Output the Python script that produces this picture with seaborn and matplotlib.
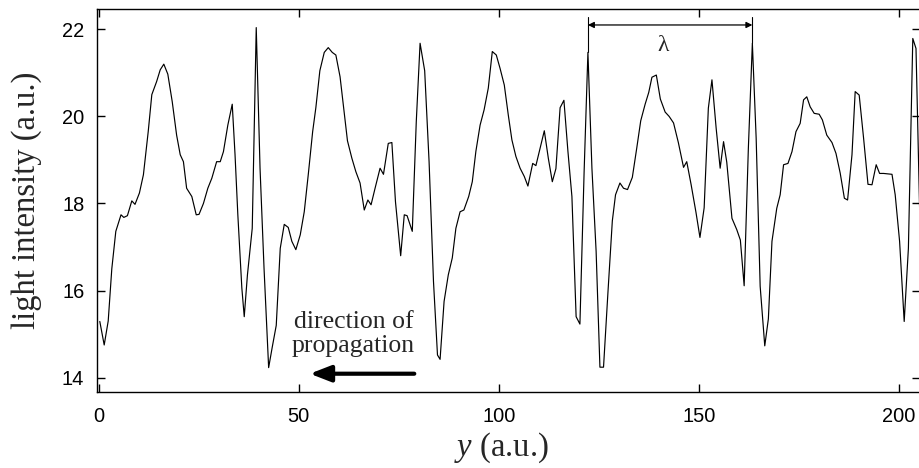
import matplotlib
matplotlib.use("Agg")
import matplotlib.pyplot as plt
import pandas as pd
import seaborn as sns

# ---- data ----
position = [0.3, 1.4, 2.4, 3.3, 4.3, 5.6, 6.3, 7.2, 8.3, 9.1, 10.2, 11.2, 12.4, 13.3, 14.5,
            15.4, 16.3, 17.3, 18.4, 19.5, 20.4, 21.2, 22.0, 23.3, 24.4, 25.1, 26.2, 27.3,
            28.3, 29.5, 30.4, 31.2, 32.3, 33.4, 34.1, 34.8, 35.8, 36.4, 37.2, 38.4, 39.4,
            40.35, 41.35, 42.5, 43.4, 44.4, 45.4, 46.4, 47.4, 48.3, 49.3, 50.4, 51.4, 52.4,
            53.5, 54.3, 55.3, 56.4, 57.4, 58.4, 59.3, 60.35, 61.35, 62.2, 63.3, 64.3, 65.35,
            66.4, 67.3, 68.1, 69.1, 70.35, 71.2, 72.4, 73.3, 74.2, 75.5, 76.4, 77.1, 78.4,
            79.4, 80.35, 81.5, 82.6, 83.7, 84.7, 85.35, 86.35, 87.4, 88.4, 89.3, 90.35, 91.3,
            92.5, 93.4, 94.3, 95.35, 96.35, 97.4, 98.4, 99.4, 100.35, 101.4, 102.4, 103.3,
            104.3, 105.35, 106.4, 107.3, 108.5, 109.3, 110.3, 111.4, 112.4, 113.4, 114.3,
            115.35, 116.3, 117.3, 118.3, 119.35, 120.3, 121.35, 122.3, 123.3, 124.35, 125.3,
            126.2, 127.3, 128.4, 129.2, 130.3, 131.2, 132.2, 133.4, 134.5, 135.5, 136.6,
            137.5, 138.3, 139.4, 140.4, 141.6, 142.6, 143.7, 144.9, 146.2, 147.0, 148.1,
            149.3, 150.3, 151.35, 152.4, 153.3, 154.35, 155.35, 156.2, 157.0, 158.3, 159.5,
            160.4, 161.35, 162.4, 163.4, 164.35, 165.35, 166.5, 167.4, 168.3, 169.5, 170.35,
            171.2, 172.3, 173.3, 174.3, 175.35, 176.2, 177.0, 177.85, 178.85, 180.1, 180.9,
            182.0, 183.3, 184.3, 185.35, 186.4, 187.2, 188.3, 189.1, 190.1, 191.2, 192.3,
            193.3, 194.35, 195.2, 196.2, 197.3, 198.3, 199.1, 200.2, 201.35, 202.4, 203.5,
            204.3, 205.35]
intensity = [15.29, 14.75, 15.3, 16.5, 17.36, 17.74, 17.68, 17.72, 18.06, 17.98, 18.24, 18.66,
             19.65, 20.5, 20.8, 21.07, 21.2, 20.97, 20.34, 19.57, 19.12, 18.96, 18.35, 18.16,
             17.74, 17.75, 18.0, 18.35, 18.58, 18.96, 18.96, 19.19, 19.8, 20.28, 19.12, 17.74,
             16.06, 15.4, 16.36, 17.43, 22.04, 18.81, 16.51, 14.23, 14.7, 15.2, 16.97, 17.52,
             17.45, 17.13, 16.94, 17.28, 17.81, 18.66, 19.65, 20.2, 21.05, 21.47, 21.58, 21.47,
             21.41, 20.91, 20.11, 19.44, 19.04, 18.73, 18.47, 17.85, 18.08, 17.97, 18.35, 18.81,
             18.67, 19.38, 19.4, 18.04, 16.8, 17.74, 17.72, 17.36, 19.88, 21.68, 21.05, 18.96,
             16.21, 14.52, 14.42, 15.75, 16.36, 16.75, 17.43, 17.81, 17.85, 18.16, 18.5, 19.2,
             19.8, 20.15, 20.65, 21.49, 21.41, 21.1, 20.72, 20.03, 19.46, 19.08, 18.81, 18.62,
             18.4, 18.92, 18.87, 19.25, 19.67, 19.04, 18.5, 18.8, 20.2, 20.37, 19.2, 18.16,
             15.4, 15.23, 18.73, 21.47, 18.81, 16.9, 14.24, 14.24, 15.95, 17.6, 18.2, 18.47,
             18.35, 18.32, 18.6, 19.27, 19.9, 20.28, 20.55, 20.9, 20.95, 20.4, 20.1, 20.0,
             19.85, 19.4, 18.83, 18.96, 18.43, 17.8, 17.22, 17.9, 20.19, 20.84, 19.73, 18.81,
             19.42, 18.95, 17.66, 17.4, 17.16, 16.11, 19.27, 21.68, 19.5, 16.1, 14.73, 15.35,
             17.13, 17.89, 18.2, 18.89, 18.92, 19.19, 19.65, 19.84, 20.38, 20.45, 20.22, 20.07,
             20.05, 19.92, 19.57, 19.4, 19.15, 18.7, 18.12, 18.08, 19.12, 20.57, 20.49, 19.5,
             18.44, 18.43, 18.89, 18.69, 18.69, 18.68, 18.67, 18.2, 17.13, 15.29, 16.97, 21.79,
             21.56, 17.28]

x_ticks = [0, 50, 100, 150, 200]
y_ticks = [14, 16, 18, 20, 22]
lambda_x = [122.3, 163.4]
lambda_peak = [21.47, 21.68]
propagation_arrow_x = [78.9, 52.8]

sns.set_style("ticks")
plt.rcParams["font.family"] = ["Liberation Sans", "DejaVu Sans"]
plt.rcParams["mathtext.fontset"] = "custom"
plt.rcParams["mathtext.rm"] = "Liberation Serif"
plt.rcParams["mathtext.it"] = "Liberation Serif:italic"

fig = plt.figure(figsize=(9.2, 4.68), dpi=100)
fig.patch.set_facecolor("white")
ax = fig.add_axes([96.8 / 920, 1 - 392 / 468, (920 - 96.8) / 920, (392 - 9.3) / 468])
ax.set_facecolor("white")

df = pd.DataFrame({"y": position, "intensity": intensity})
sns.lineplot(data=df, x="y", y="intensity", ax=ax, color="black", linewidth=0.85,
             estimator=None, sort=False)

ax.set_xlim(-0.45, 205.3)
ax.set_ylim(13.67, 22.46)
ax.set_xticks(x_ticks)
ax.set_yticks(y_ticks)
ax.tick_params(axis="both", direction="in", length=6, width=1, top=True, right=True,
               labelsize=14.4, colors="black")
ax.tick_params(axis="y", pad=9)
ax.tick_params(axis="x", pad=11)
for s in ax.spines.values():
    s.set_visible(True)
    s.set_color("black")
    s.set_linewidth(1.0)

serif = ["Liberation Serif", "DejaVu Serif"]
ax.set_xlabel(r"$y$ (a.u.)", family=serif, fontsize=23.5)
ax.xaxis.label.set_va("center")
ax.xaxis.set_label_coords(0.492, -0.146)
ax.set_ylabel("light intensity (a.u.)", family=serif, fontsize=23.5)
ax.yaxis.label.set_va("center")
ax.yaxis.set_label_coords(-0.0854, 0.5)

# wavelength marker
for xv, pk in zip(lambda_x, lambda_peak):
    ax.plot([xv, xv], [22.29, pk], color="black", linewidth=0.8)
ax.annotate("", xy=(lambda_x[0], 22.1), xytext=(lambda_x[1], 22.1),
            arrowprops=dict(arrowstyle="<|-|>", color="black", lw=0.9,
                            mutation_scale=9, shrinkA=0, shrinkB=0))
ax.text(141.1, 21.64, "λ", family=serif, fontsize=17, ha="center", va="center")

# direction of propagation
ax.text(63.7, 15.0, "direction of\npropagation", family=serif, fontsize=18.5,
        ha="center", va="center", linespacing=1.15)
ax.annotate("", xy=(propagation_arrow_x[1], 14.09), xytext=(propagation_arrow_x[0], 14.09),
            arrowprops=dict(arrowstyle="-|>,head_length=0.9,head_width=0.35", color="black",
                            lw=3, mutation_scale=14, shrinkA=0, shrinkB=0))

fig.savefig("out.png", dpi=100, facecolor="white")
